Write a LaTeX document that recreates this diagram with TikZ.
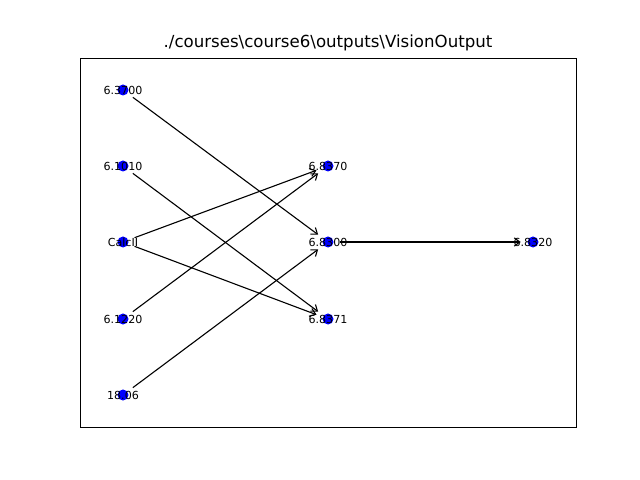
\documentclass[tikz,border=0pt]{standalone}
\usepackage{fontspec}
\setmainfont{DejaVu Sans}
\usetikzlibrary{arrows.meta}
\definecolor{nodeblue}{RGB}{0,0,255}
\begin{document}
\begin{tikzpicture}[x=0.01in,y=-0.01in,
  dot/.style={circle,fill=nodeblue,inner sep=0pt,minimum size=0.11in},
  lbl/.style={font=\fontsize{8}{9}\selectfont,inner sep=0pt},
  edge/.style={-{Straight Barb[length=4pt,width=6pt]},line width=0.8pt,shorten >=0.065in,shorten <=0.065in}]
\useasboundingbox (0,0) rectangle (640,480);
\node[font=\fontsize{12}{14}\selectfont] (title) at (328,43) {./courses\textbackslash course6\textbackslash outputs\textbackslash VisionOutput};
\draw[line width=0.7pt] (80,58) rectangle (576,427);
% dots
\node[dot] (a) at (123,90) {};
\node[dot] (b) at (123,166) {};
\node[dot] (c) at (123,242) {};
\node[dot] (d) at (123,319) {};
\node[dot] (e) at (123,395) {};
\node[dot] (f) at (328,166) {};
\node[dot] (g) at (328,242) {};
\node[dot] (h) at (328,319) {};
\node[dot] (i) at (533,242) {};
% edges
\draw[edge] (a) -- (g);
\draw[edge] (b) -- (h);
\draw[edge] (c) -- (f);
\draw[edge] (c) -- (h);
\draw[edge] (d) -- (f);
\draw[edge] (e) -- (g);
\draw[edge] (g) -- (i);
% labels
\node[lbl] (la) at (a) {6.3700};
\node[lbl] (lb) at (b) {6.1010};
\node[lbl] (lc) at (c) {CalcII};
\node[lbl] (ld) at (d) {6.1220};
\node[lbl] (le) at (e) {18.06};
\node[lbl] (lf) at (f) {6.8370};
\node[lbl] (lg) at (g) {6.8300};
\node[lbl] (lh) at (h) {6.8371};
\node[lbl] (li) at (i) {6.8320};
\end{tikzpicture}
\end{document}
